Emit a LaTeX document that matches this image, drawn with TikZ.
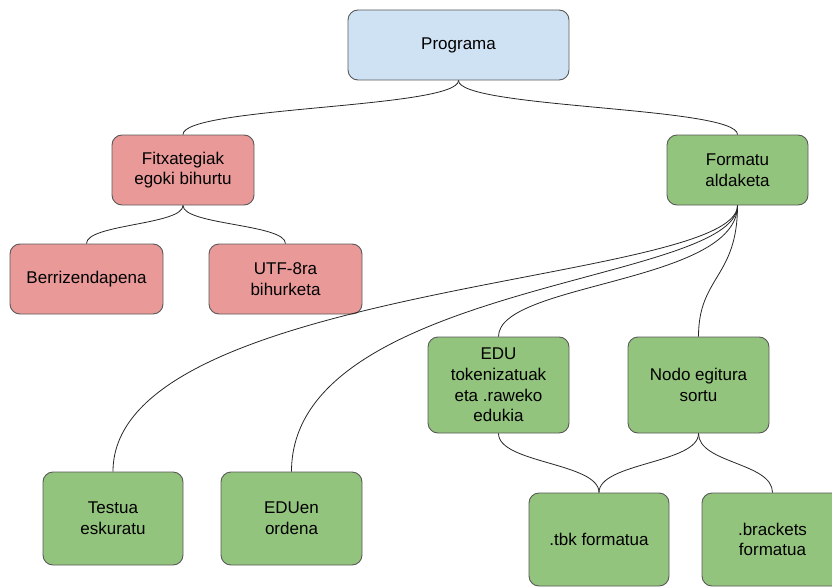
\documentclass[tikz,border=0pt]{standalone}
\usepackage{fontspec}
\setmainfont{Liberation Sans}
\definecolor{progblue}{HTML}{CFE2F3}
\definecolor{fitxred}{HTML}{EA9999}
\definecolor{formgreen}{HTML}{93C47D}
\definecolor{edgegray}{HTML}{595959}
\tikzset{
  box/.style={draw=edgegray, line width=0.9pt, rounded corners=10pt, align=center,
    inner sep=0pt, font=\fontsize{17}{20.7}\selectfont},
  bluebox/.style={box, fill=progblue},
  redbox/.style={box, fill=fitxred},
  greenbox/.style={box, fill=formgreen},
  link/.style={draw=black!85, line width=0.8pt}
}
\begin{document}
\begin{tikzpicture}[x=1pt,y=-1pt]
                        \useasboundingbox (0,0) rectangle (832,586);
                        % Nodes
                        \node[bluebox, minimum width=221pt, minimum height=70pt] (prog) at (458.5,45) {Programa};
                        \node[redbox, minimum width=142pt, minimum height=70pt] (fitx) at (183,170) {Fitxategiak\\egoki bihurtu};
                        \node[greenbox, minimum width=141pt, minimum height=70pt] (form) at (737.5,170) {Formatu\\aldaketa};
                        \node[redbox, minimum width=153pt, minimum height=70pt] (berr) at (86.5,279) {Berrizendapena};
                        \node[redbox, minimum width=153pt, minimum height=70pt] (utf) at (285.5,279) {UTF-8ra\\bihurketa};
                        \node[greenbox, minimum width=141pt, minimum height=96pt] (edu) at (498.5,385) {EDU\\tokenizatuak\\eta .raweko\\edukia};
                        \node[greenbox, minimum width=141pt, minimum height=96pt] (nodo) at (698.5,385) {Nodo egitura\\sortu};
                        \node[greenbox, minimum width=140pt, minimum height=93pt] (test) at (113,518.5) {Testua\\eskuratu};
                        \node[greenbox, minimum width=141pt, minimum height=93pt] (eduen) at (291.5,518.5) {EDUen\\ordena};
                        \node[greenbox, minimum width=140pt, minimum height=93pt] (tbk) at (599,539.5) {.tbk formatua};
                        \node[greenbox, minimum width=141pt, minimum height=93pt] (brack) at (772.5,539.5) {.brackets\\formatua};

                        % Edges
                        \draw[link] (prog.south) .. controls +(0,28) and +(0,-28) .. (fitx.north);
                        \draw[link] (prog.south) .. controls +(0,28) and +(0,-28) .. (form.north);

                        \draw[link] (fitx.south) .. controls +(0,19.5) and +(0,-19.5) .. (berr.north);
                        \draw[link] (fitx.south) .. controls +(0,19.5) and +(0,-19.5) .. (utf.north);

                        \draw[link] (form.south) .. controls +(0,78) and +(0,-189) .. (test.north);
                        \draw[link] (form.south) .. controls +(0,78) and +(0,-189) .. (eduen.north);
                        \draw[link] (form.south) .. controls +(0,78) and +(0,-54) .. (edu.north);
                        \draw[link] (form.south) .. controls +(0,72) and +(0,-60) .. (nodo.north);

                        \draw[link] (edu.south) .. controls +(0,30) and +(0,-30) .. (tbk.north);
                        \draw[link] (nodo.south) .. controls +(0,30) and +(0,-30) .. (tbk.north);
                        \draw[link] (nodo.south) .. controls +(0,30) and +(0,-30) .. (brack.north);
                    \end{tikzpicture}
\end{document}
